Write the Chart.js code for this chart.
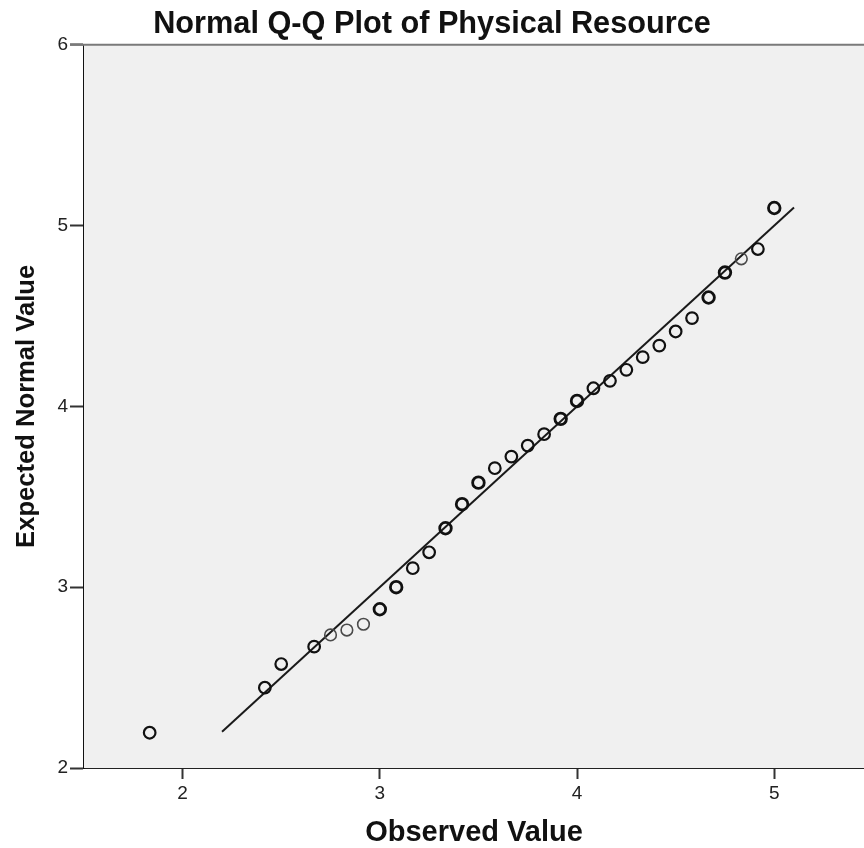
<!DOCTYPE html>
<html lang="en">
<head>
  <meta charset="UTF-8" />
  <title>Normal Q-Q Plot of Physical Resource</title>
  <script src="https://cdn.jsdelivr.net/npm/chart.js"></script>
  <style>
    html, body { margin: 0; padding: 0; background: #ffffff; overflow: hidden; }
    #wrap { width: 864px; height: 848px; position: relative; }
    canvas { display: block; }
  </style>
</head>
<body>
  <div id="wrap"><canvas id="qq"></canvas></div>

  <script>
    // observed scale means and their expected normal quantiles
    const observed = [1.833, 2.417, 2.5, 2.667, 2.75, 2.833, 2.917, 3.0, 3.083, 3.167, 3.25, 3.333,
      3.417, 3.5, 3.583, 3.667, 3.75, 3.833, 3.917, 4.0, 4.083, 4.167, 4.25, 4.333,
      4.417, 4.5, 4.583, 4.667, 4.75, 4.833, 4.917, 5.0];
    const expected = [2.195, 2.444, 2.575, 2.671, 2.736, 2.763, 2.795, 2.878, 3.0, 3.105, 3.193, 3.326,
      3.459, 3.578, 3.658, 3.722, 3.783, 3.846, 3.931, 4.03, 4.1, 4.141, 4.202, 4.272,
      4.336, 4.414, 4.488, 4.602, 4.74, 4.816, 4.87, 5.097];
    // how many cases sit on each point (drawn heavier when stacked)
    const caseCount = [2, 2, 2, 2, 1, 1, 1, 3, 3, 2, 2, 3, 3, 3, 2, 2, 2, 2, 3, 3, 2, 2, 2, 2,
      2, 2, 2, 3, 3, 1, 2, 3];
    // reference line y = x
    const refLine = [2.2, 5.1];
    const xTicks = [2, 3, 4, 5];
    const yTicks = [2, 3, 4, 5, 6];

    const points = observed.map((x, i) => ({ x, y: expected[i] }));
    const line = refLine.map(v => ({ x: v, y: v }));

    const FONT = "'Liberation Sans', Arial, sans-serif";

    const plotBg = {
      id: 'plotBg',
      beforeDatasetsDraw(chart) {
        const { ctx, chartArea: a } = chart;
        ctx.save();
        ctx.fillStyle = '#f0f0f0';
        ctx.fillRect(a.left, a.top, a.right - a.left, a.bottom - a.top);
        ctx.strokeStyle = '#7a7a7a';
        ctx.lineWidth = 2;
        ctx.beginPath();
        ctx.moveTo(a.left - 14, a.top);
        ctx.lineTo(a.right, a.top);
        ctx.stroke();
        ctx.restore();
      }
    };

    new Chart(document.getElementById('qq'), {
      type: 'scatter',
      data: {
        datasets: [
          {
            type: 'line',
            data: line,
            borderColor: '#1a1a1a',
            borderWidth: 2,
            pointRadius: 0,
            fill: false,
            order: 2
          },
          {
            data: points,
            pointStyle: 'circle',
            pointRadius: 5.8,
            backgroundColor: 'rgba(0,0,0,0)',
            borderColor: c => caseCount[c.dataIndex] === 1 ? '#4a4a4a' : '#111111',
            pointBorderWidth: c => caseCount[c.dataIndex] === 1 ? 1.6 : caseCount[c.dataIndex] === 2 ? 2.2 : 2.8,
            order: 1
          }
        ]
      },
      options: {
        responsive: true,
        maintainAspectRatio: false,
        animation: false,
        // no extra room for markers: the plot runs to the canvas edge
        layout: { autoPadding: false, padding: 0 },
        plugins: {
          legend: { display: false },
          tooltip: { enabled: false },
          title: {
            display: true,
            text: 'Normal Q-Q Plot of Physical Resource',
            color: '#111111',
            font: { family: FONT, size: 30.7, weight: 'bold', lineHeight: 1 },
            padding: { top: 9, bottom: 5 }
          }
        },
        scales: {
          x: {
            type: 'linear',
            min: 1.5,
            max: 5.455,
            afterBuildTicks: s => { s.ticks = xTicks.map(v => ({ value: v })); },
            afterFit: s => { s.height = 80; s.paddingLeft = 0; s.paddingRight = 0; },
            border: { display: true, color: '#222222', width: 2 },
            grid: { drawOnChartArea: false, tickLength: 11, tickWidth: 2, color: '#333333' },
            ticks: { color: '#222222', padding: 3, font: { family: FONT, size: 19 } },
            title: {
              display: true,
              text: 'Observed Value',
              color: '#111111',
              font: { family: FONT, size: 29, weight: 'bold', lineHeight: 1 },
              padding: { top: 0, bottom: 1 }
            }
          },
          y: {
            type: 'linear',
            min: 2,
            max: 6,
            afterBuildTicks: s => { s.ticks = yTicks.map(v => ({ value: v })); },
            afterFit: s => { s.width = 84; },
            border: { display: true, color: '#111111', width: 2 },
            grid: { drawOnChartArea: false, tickLength: 14, tickWidth: 2, color: '#333333' },
            ticks: { color: '#222222', padding: 2, font: { family: FONT, size: 19 } },
            title: {
              display: true,
              text: 'Expected Normal Value',
              color: '#111111',
              font: { family: FONT, size: 25.6, weight: 'bold', lineHeight: 1 },
              padding: { top: 14, bottom: 0 }
            }
          }
        }
      },
      plugins: [plotBg]
    });
  </script>
</body>
</html>
